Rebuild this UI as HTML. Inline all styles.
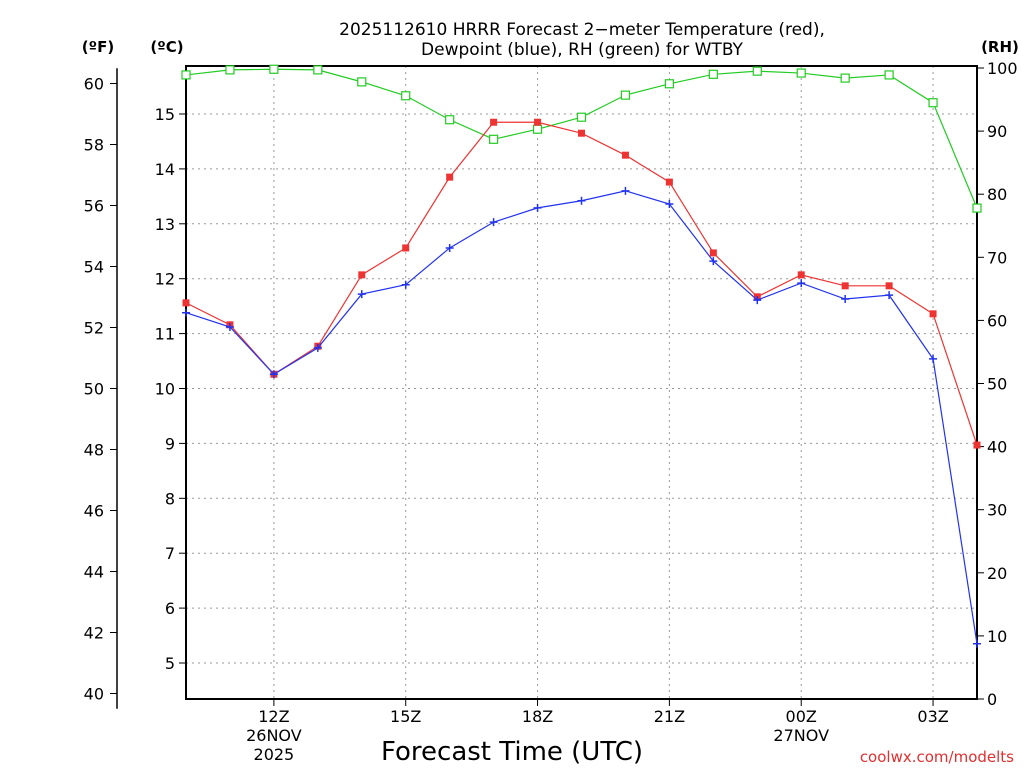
<!DOCTYPE html>
<html><head><meta charset="utf-8"><style>
body{margin:0;background:#fff;}
svg text{font-family:"DejaVu Sans","Liberation Sans",sans-serif;}
</style></head><body>
<svg id="chart" width="1024" height="768" xmlns="http://www.w3.org/2000/svg">
<rect width="1024" height="768" fill="#fff"/>
<text x="582" y="35" text-anchor="middle" font-size="17">2025112610 HRRR Forecast 2−meter Temperature (red),</text>
<text x="582" y="55" text-anchor="middle" font-size="17">Dewpoint (blue), RH (green) for WTBY</text>
<text x="98" y="52" text-anchor="middle" font-size="15" font-weight="bold">(ºF)</text>
<text x="167" y="52" text-anchor="middle" font-size="15" font-weight="bold">(ºC)</text>
<text x="1000" y="52" text-anchor="middle" font-size="15" font-weight="bold">(RH)</text>
<text x="512" y="760" text-anchor="middle" font-size="26">Forecast Time (UTC)</text>
<text x="1014" y="762" text-anchor="end" font-size="15" fill="#e03030">coolwx.com/modelts</text>
<g id="grid"></g><g id="axes"></g><g id="series"></g>
</svg>
<script>
const hours=[10,11,12,13,14,15,16,17,18,19,20,21,22,23,24,25,26,27,28];
const tempC=[11.56,11.16,10.26,10.77,12.07,12.56,13.85,14.85,14.85,14.65,14.25,13.76,12.47,11.67,12.07,11.87,11.87,11.36,8.97];
const dewC=[11.38,11.12,10.26,10.74,11.72,11.89,12.56,13.03,13.29,13.42,13.60,13.36,12.32,11.61,11.92,11.63,11.70,10.54,5.35];
const rh=[98.9,99.7,99.8,99.7,97.8,95.6,91.8,88.7,90.3,92.2,95.7,97.5,99.0,99.5,99.2,98.4,98.9,94.5,77.8];
const cTicks=[5,6,7,8,9,10,11,12,13,14,15];
const fTicks=[40,42,44,46,48,50,52,54,56,58,60];
const rhTicks=[0,10,20,30,40,50,60,70,80,90,100];
const xTickHours=[12,15,18,21,24,27];
const xTickLabels=["12Z","15Z","18Z","21Z","00Z","03Z"];
const xSub={12:["26NOV","2025"],24:["27NOV"]};
const L=186,R=977,T=66,B=699;
const xs=h=>L+(h-10)*(R-L)/18;
const yC=c=>114+(15-c)*54.9;
const yF=f=>yC((f-32)*5/9);
const yRH=r=>699-r*6.31;
const NS="http://www.w3.org/2000/svg";
function mk(tag,attrs,parent,txt){const e=document.createElementNS(NS,tag);for(const k in attrs)e.setAttribute(k,attrs[k]);if(txt!==undefined)e.textContent=txt;document.getElementById(parent).appendChild(e);return e;}
cTicks.forEach(c=>{const y=yC(c);
 const g=mk('line',{x1:L,x2:R,y1:y,y2:y,stroke:'#999','stroke-dasharray':'2,4'},'grid');
 
 
 const t=mk('line',{x1:L-7,x2:L,y1:y,y2:y,stroke:'#000'},'axes');
 
 
 const l=mk('text',{x:L-11,y:y+6,'text-anchor':'end','font-size':16},'axes',c);
 
 
});
fTicks.forEach(f=>{const y=yF(f);
 const t=mk('line',{x1:110,x2:117,y1:y,y2:y,stroke:'#000'},'axes');
 
 
 const l=mk('text',{x:104,y:y+6,'text-anchor':'end','font-size':16},'axes',f);
 
 
});
const fl=mk('line',{x1:117,x2:117,y1:yF(60.5),y2:yF(39.5),stroke:'#000','stroke-width':1.5},'axes');


rhTicks.forEach(r=>{const y=yRH(r);
 const t=mk('line',{x1:R,x2:R+7,y1:y,y2:y,stroke:'#000'},'axes');
 
 
 const l=mk('text',{x:R+10,y:y+6,'text-anchor':'start','font-size':16},'axes',r);
 
 
});
xTickHours.forEach((h,i)=>{const x=xs(h);
 const g=mk('line',{x1:x,x2:x,y1:T,y2:B,stroke:'#999','stroke-dasharray':'2,4'},'grid');
 
 
 const t=mk('line',{x1:x,x2:x,y1:B,y2:B+7,stroke:'#000'},'axes');
 
 
 const l=mk('text',{x:x,y:722,'text-anchor':'middle','font-size':16},'axes',xTickLabels[i]);
 
 
 (xSub[h]||[]).forEach((s,j)=>{const e=mk('text',{x:x,y:741+j*19,'text-anchor':'middle','font-size':16},'axes',s);
  
  });
});
const fr=mk('rect',{x:L,y:T,width:R-L,height:B-T,fill:'none',stroke:'#000','stroke-width':2},'axes');


function series(vals,yf,color,name,marker){
 const pts=vals.map((v,i)=>xs(hours[i])+','+yf(v)).join(' ');
 const pl=mk('polyline',{points:pts,fill:'none',stroke:color,'stroke-width':1.2},'series');
 
 
 vals.forEach((v,i)=>{const x=xs(hours[i]),y=yf(v);let m;
  if(marker==='sq')m=mk('rect',{x:x-3.5,y:y-3.5,width:7,height:7,fill:color},'series');
  else if(marker==='open')m=mk('rect',{x:x-4,y:y-4,width:8,height:8,fill:'#fff',stroke:color,'stroke-width':1.2},'series');
  else m=mk('path',{d:`M${x-4},${y}H${x+4}M${x},${y-4}V${y+4}`,stroke:color,'stroke-width':1.5},'series');
  
  });
}
series(rh,yRH,'#22cc22','rh','open');
series(tempC,yC,'#ee3333','temperature','sq');
series(dewC,yC,'#2233ee','dewpoint','plus');
</script>
</body></html>
